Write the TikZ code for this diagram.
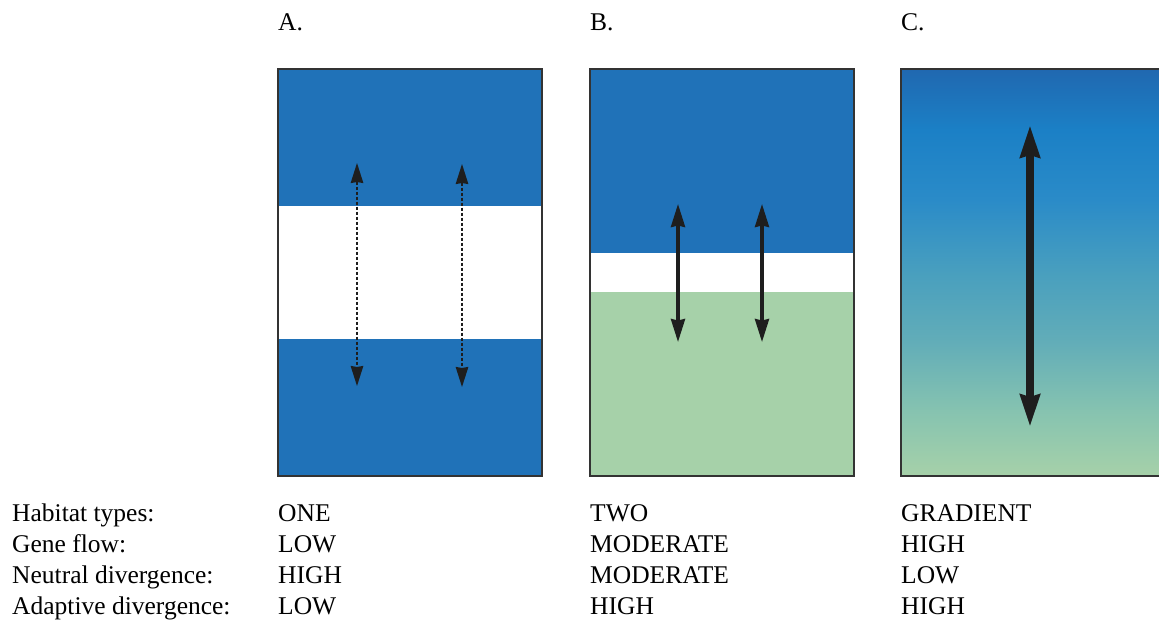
\documentclass[tikz,border=0pt]{standalone}
\usepackage{fontspec}
\setmainfont{Liberation Serif}
\usetikzlibrary{arrows.meta}
\definecolor{seablue}{HTML}{2072B8}
\definecolor{meadow}{HTML}{A6D1A9}
\definecolor{framegray}{HTML}{333333}
\definecolor{arrowink}{HTML}{1E1E1E}
\definecolor{gA}{HTML}{86C3B0}
\definecolor{gB}{HTML}{62ADB8}
\definecolor{gC}{HTML}{4AA0BE}
\definecolor{gD}{HTML}{2A8BC8}
\definecolor{gE}{HTML}{1B80C6}
\definecolor{gF}{HTML}{2068B0}
\pgfdeclareverticalshading{gradC}{100bp}{
  color(0bp)=(meadow);
  color(25bp)=(meadow);
  color(33bp)=(gA);
  color(41.5bp)=(gB);
  color(49.5bp)=(gC);
  color(59bp)=(gD);
  color(67.5bp)=(gE);
  color(75bp)=(gF);
  color(100bp)=(gF)}
\begin{document}
\begin{tikzpicture}[x=1pt,y=-1pt,
  panel/.style={draw=framegray,line width=2pt,inner sep=0pt,outer sep=0pt,
    minimum width=264pt,minimum height=407pt,anchor=north west},
  txt/.style={anchor=base west,inner sep=0pt,font=\fontsize{25.5}{30}\selectfont},
  thinarrow/.style={arrowink,line width=1.6pt,dash pattern=on 3pt off 2pt,
    {Stealth[length=20pt,width=12.5pt,inset=1pt]}-{Stealth[length=20pt,width=12.5pt,inset=1pt]}},
  midarrow/.style={arrowink,line width=3.2pt,
    {Stealth[length=23pt,width=14pt,inset=1.5pt]}-{Stealth[length=23pt,width=14pt,inset=1.5pt]}},
  bigarrow/.style={arrowink,line width=8pt,
    {Stealth[length=32pt,width=19pt,inset=2pt]}-{Stealth[length=32pt,width=19pt,inset=2pt]}}]
\useasboundingbox (0,0) rectangle (1159,621);
\clip (0,0) rectangle (1159,621);

% panels
\node[panel,fill=seablue] (A) at (278,69) {};
\node[panel,fill=meadow] (B) at (590,69) {};
\node[panel,shading=gradC,minimum width=270pt] (C) at (901,69) {};

% bands
\fill[white] (279,206) rectangle (541,339);
\fill[seablue] (591,70) rectangle (853,253);
\fill[white] (591,253) rectangle (853,292);

% arrows
\coordinate (a1t) at (357,163); \coordinate (a1b) at (357,386);
\coordinate (a2t) at (462,164); \coordinate (a2b) at (462,387);
\coordinate (b1t) at (678,204); \coordinate (b1b) at (678,342);
\coordinate (b2t) at (762,204); \coordinate (b2b) at (762,342);
\coordinate (c1t) at (1030,125); \coordinate (c1b) at (1030,427);
\draw[thinarrow] (a1t) -- (a1b);
\draw[thinarrow] (a2t) -- (a2b);
\draw[midarrow] (b1t) -- (b1b);
\draw[midarrow] (b2t) -- (b2b);
\draw[bigarrow] (c1t) -- (c1b);

% panel letters
\node[txt] (lA) at (278,30) {A.};
\node[txt] (lB) at (590,30) {B.};
\node[txt] (lC) at (901,30) {C.};

% row labels
\node[txt] (r1) at (12,521) {Habitat types:};
\node[txt] (r2) at (12,552) {Gene flow:};
\node[txt] (r3) at (12,583) {Neutral divergence:};
\node[txt] (r4) at (12,614) {Adaptive divergence:};

\node[txt] (a1) at (278,521) {ONE};
\node[txt] (a2) at (278,552) {LOW};
\node[txt] (a3) at (278,583) {HIGH};
\node[txt] (a4) at (278,614) {LOW};

\node[txt] (b1) at (590,521) {TWO};
\node[txt] (b2) at (590,552) {MODERATE};
\node[txt] (b3) at (590,583) {MODERATE};
\node[txt] (b4) at (590,614) {HIGH};

\node[txt] (c1) at (901,521) {GRADIENT};
\node[txt] (c2) at (901,552) {HIGH};
\node[txt] (c3) at (901,583) {LOW};
\node[txt] (c4) at (901,614) {HIGH};
\end{tikzpicture}
\end{document}
